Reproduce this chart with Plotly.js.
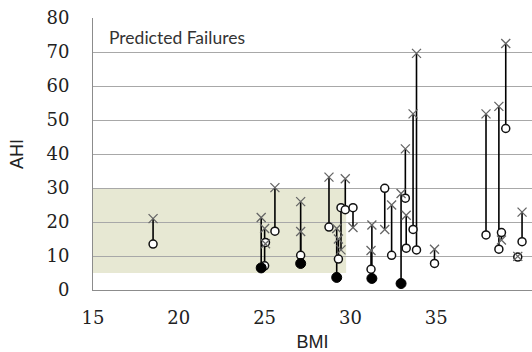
<!DOCTYPE html>
<html>
<head>
<meta charset="utf-8">
<script src="https://cdn.plot.ly/plotly-3.0.1.min.js"></script>
<style>html,body{margin:0;padding:0;background:#fff;}#chart{width:532px;height:352px;}</style>
</head>
<body>
<div id="chart"></div>
<script>
// Each patient: BMI, AHI at "x" marker, AHI at circle end, whether the circle end is filled (failure)
const bmi      = [18.5, 24.8, 25.0, 25.05, 25.6, 27.1, 27.1, 28.75, 29.2, 29.3, 29.45, 29.7, 30.15, 31.25, 31.2, 32.0, 32.4, 32.95, 33.2, 33.25, 33.65, 33.85, 34.9, 37.9, 38.65, 38.8, 39.05, 39.75, 40.0];
const ahiCross = [21, 21.3, 18.1, 13.6, 30.1, 26, 17.2, 33.2, 18.1, 15, 11.8, 32.7, 18.4, 19.1, 11.6, 17.8, 25, 28.4, 41.5, 22, 51.8, 69.6, 12, 51.8, 54, 14.7, 72.5, 9.9, 22.9];
const ahiCircle= [13.5, 6.5, 7.1, 14, 17.3, 7.8, 10.2, 18.5, 3.7, 9.1, 24.2, 23.6, 24.2, 3.4, 6.1, 29.9, 10.2, 1.9, 27, 12.3, 17.8, 11.8, 7.8, 16.2, 12, 16.9, 47.5, 9.7, 14.2];
const filled   = [false, true, false, false, false, true, false, false, true, false, false, false, false, true, false, false, false, true, false, false, false, false, false, false, false, false, false, false, false];
const yTicks = [0, 10, 20, 30, 40, 50, 60, 70, 80];
const xTicks = [15, 20, 25, 30, 35, 40];
const band = {x0: 15, x1: 29.75, y0: 5, y1: 30};
const label = "Predicted Failures";

const lx = [], ly = [];
bmi.forEach((b, i) => { lx.push(b, b, null); ly.push(ahiCross[i], ahiCircle[i], null); });

const openIdx = bmi.map((b,i)=>i).filter(i=>!filled[i]);
const fillIdx = bmi.map((b,i)=>i).filter(i=>filled[i]);

const traces = [
  {x: lx, y: ly, mode: 'lines', line: {color: '#000', width: 1.6}, hoverinfo: 'skip', showlegend: false},
  {x: openIdx.map(i=>bmi[i]), y: openIdx.map(i=>ahiCircle[i]), mode: 'markers',
   marker: {symbol: 'circle', size: 8, color: '#fff', line: {color: '#111', width: 1.5}}, showlegend: false},
  {x: fillIdx.map(i=>bmi[i]), y: fillIdx.map(i=>ahiCircle[i]), mode: 'markers',
   marker: {symbol: 'circle', size: 10, color: '#000', line: {color: '#000', width: 1}}, showlegend: false},
  {x: bmi, y: ahiCross, mode: 'markers',
   marker: {symbol: 'x-thin-open', size: 9, color: '#666', line: {color: '#666', width: 1.3}}, showlegend: false}
];

const layout = {
  width: 532, height: 352,
  margin: {l: 93, r: 0, t: 18, b: 62},
  paper_bgcolor: '#fff', plot_bgcolor: '#fff',
  showlegend: false,
  xaxis: {
    range: [15, 40.58], tickvals: xTicks, ticktext: xTicks.map(String),
    showgrid: false, zeroline: false, showline: true, linecolor: '#8c8c8c', linewidth: 1,
    ticks: '', ticklabelstandoff: 11,
    tickfont: {family: 'DejaVu Serif', size: 18, color: '#222'},
    title: {text: 'BMI', font: {family: 'Liberation Sans, Arial', size: 18, color: '#222'}, standoff: 8}
  },
  yaxis: {
    range: [0, 80], tickvals: yTicks, ticktext: yTicks.map(String),
    showgrid: true, gridcolor: '#a8a8a8', gridwidth: 1, zeroline: false,
    showline: true, linecolor: '#8c8c8c', linewidth: 1, mirror: false,
    ticks: '', ticklabelstandoff: 19,
    tickfont: {family: 'DejaVu Serif', size: 18, color: '#222'},
    title: {text: 'AHI', font: {family: 'Liberation Sans, Arial', size: 18, color: '#222'}, standoff: 18}
  },
  shapes: [{type: 'rect', xref: 'x', yref: 'y', x0: band.x0, x1: band.x1, y0: band.y0, y1: band.y1,
            fillcolor: '#e7e8d3', line: {width: 0}, layer: 'below'}],
  annotations: [{text: label, xref: 'paper', yref: 'paper', x: 0.031, y: 0.975, xanchor: 'left', yanchor: 'top',
                 showarrow: false, font: {family: 'Lato, Open Sans', size: 17.5, color: '#333'}}]
};

Plotly.newPlot('chart', traces, layout, {staticPlot: true, displayModeBar: false});
</script>
</body>
</html>
